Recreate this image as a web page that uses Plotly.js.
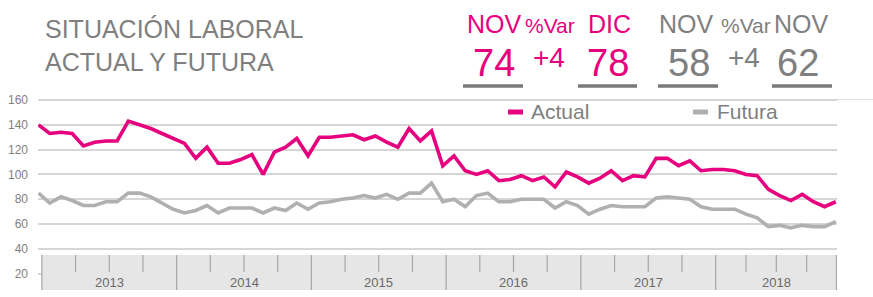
<!DOCTYPE html>
<html>
<head>
<meta charset="utf-8">
<script src="https://cdn.plot.ly/plotly-3.0.1.min.js"></script>
<style>
  html, body { margin: 0; padding: 0; background: #ffffff; }
  #chart { width: 873px; height: 297px; }
</style>
</head>
<body>
<div id="chart"></div>
<script>
// ---------------- DATA ----------------
const years = ['2013', '2014', '2015', '2016', '2017', '2018'];
const months = ['ene', 'feb', 'mar', 'abr', 'may', 'jun', 'jul', 'ago', 'sep', 'oct', 'nov', 'dic'];

const actual = [
  140, 133, 134, 133, 123, 126, 127, 127, 143, 140, 137, 133,
  129, 125, 113, 122, 109, 109, 112, 116, 100, 118, 122, 129,
  115, 130, 130, 131, 132, 128, 131, 126, 122, 137, 127, 135,
  107, 115, 103, 100, 103, 95, 96, 99, 95, 98, 90, 102,
  98, 93, 97, 103, 95, 99, 98, 113, 113, 107, 111, 103,
  104, 104, 103, 100, 99, 88, 83, 79, 84, 78, 74, 78
];
const futura = [
  85, 77, 82, 79, 75, 75, 78, 78, 85, 85, 82, 77,
  72, 69, 71, 75, 69, 73, 73, 73, 69, 73, 71, 77,
  72, 77, 78, 80, 81, 83, 81, 84, 80, 85, 85, 93,
  78, 80, 74, 83, 85, 78, 78, 80, 80, 80, 73, 78,
  75, 68, 72, 75, 74, 74, 74, 81, 82, 81, 80, 74,
  72, 72, 72, 68, 65, 58, 59, 57, 59, 58, 58, 62
];
const yTicks = [20, 40, 60, 80, 100, 120, 140, 160];
const seriesNames = ['Actual', 'Futura'];

const titleLines = ['SITUACIÓN LABORAL', 'ACTUAL Y FUTURA'];
const actualHeadLabels = ['NOV', '%Var', 'DIC'];
const actualHeadValues = ['74', '+4', '78'];
const futuraHeadLabels = ['NOV', '%Var', 'NOV'];
const futuraHeadValues = ['58', '+4', '62'];

// ---------------- STYLE / GEOMETRY ----------------
const PINK = '#e6007e';
const GREY_LINE = '#b0b0b0';
const GREY_TEXT = '#7f7f7f';
const FONT = 'Liberation Sans, Arial, sans-serif';

const FW = 873, FH = 297;
const ML = 38, MR = 36, MT = 98, MB = 21;
const PW = FW - ML - MR, PH = FH - MT - MB, PB = FH - MB;
const px = v => (v - ML) / PW;   // pixel x -> paper x
const py = v => (PB - v) / PH;   // pixel y -> paper y

const categories = [];
years.forEach(y => months.forEach(m => categories.push(m + ' ' + y)));
const xIdx = categories.map((_, i) => i);
const xMin = -0.045, xMax = 71.107;

// ---------------- TRACES ----------------
const traces = [
  { x: xIdx, y: actual, text: categories, name: seriesNames[0], type: 'scatter', mode: 'lines',
    line: { color: PINK, width: 3.6 }, hoverinfo: 'text+y' },
  { x: xIdx, y: futura, text: categories, name: seriesNames[1], type: 'scatter', mode: 'lines',
    line: { color: GREY_LINE, width: 3.6 }, hoverinfo: 'text+y' }
];

// ---------------- SHAPES & ANNOTATIONS ----------------
const shapes = [];
const annotations = [];

// category band (multi-level axis look)
const bandTop = py(255), bandBot = py(290), tickBot = py(272);
shapes.push({ type: 'rect', xref: 'x', yref: 'paper', x0: 0.3, x1: xMax, y0: bandBot, y1: bandTop,
  fillcolor: '#e6e6e6', line: { width: 0 } });
years.forEach((yr, k) => {
  const s = 12 * k + 0.3;
  const e = k < years.length - 1 ? 12 * (k + 1) + 0.3 : xMax;
  shapes.push({ type: 'line', xref: 'x', yref: 'paper', x0: s, x1: s, y0: bandBot, y1: bandTop,
    line: { color: '#a6a6a6', width: 1.2 } });
  for (let q = 1; q <= 3; q++) {
    const t = s + (e - s) * q / 4;
    shapes.push({ type: 'line', xref: 'x', yref: 'paper', x0: t, x1: t, y0: tickBot, y1: bandTop,
      line: { color: '#a6a6a6', width: 1.2 } });
  }
  if (k === years.length - 1) {
    shapes.push({ type: 'line', xref: 'x', yref: 'paper', x0: e - 0.05, x1: e - 0.05, y0: bandBot, y1: bandTop,
      line: { color: '#a6a6a6', width: 1.2 } });
  }
  annotations.push({ xref: 'x', yref: 'paper', x: (s + e) / 2, y: py(282), text: yr, showarrow: false,
    xanchor: 'center', yanchor: 'middle', font: { family: FONT, size: 13, color: '#6a6a6a' } });
});

// top divider continuing to the right edge
shapes.push({ type: 'line', xref: 'paper', yref: 'paper', x0: 1, x1: px(873), y0: py(99.5), y1: py(99.5),
  line: { color: '#dedede', width: 1.2 } });

// title (two lines in one text block)
annotations.push({ xref: 'paper', yref: 'paper', x: px(43), y: py(45), text: titleLines.join('<br>'),
  showarrow: false, align: 'left', xanchor: 'left', yanchor: 'middle',
  font: { family: FONT, size: 25, color: GREY_TEXT } });

// header figures
function header(labels, values, color, cx, bars) {
  const labelSizes = [25, 21, 25];
  const labelY = [24, 25.5, 24];
  const valueSizes = [38, 28, 38];
  const valueY = [62.5, 57.5, 62.5];
  labels.forEach((t, i) => annotations.push({ xref: 'paper', yref: 'paper', x: px(cx.lab[i]), y: py(labelY[i]),
    text: t, showarrow: false, xanchor: 'center', yanchor: 'middle',
    font: { family: FONT, size: labelSizes[i], color: color } }));
  values.forEach((t, i) => annotations.push({ xref: 'paper', yref: 'paper', x: px(cx.val[i]), y: py(valueY[i]),
    text: t, showarrow: false, xanchor: 'center', yanchor: 'middle',
    font: { family: FONT, size: valueSizes[i], color: color } }));
  bars.forEach(b => shapes.push({ type: 'line', xref: 'paper', yref: 'paper', x0: px(b[0]), x1: px(b[1]),
    y0: py(86), y1: py(86), line: { color: '#7a7a7a', width: 3.5 } }));
}
header(actualHeadLabels, actualHeadValues, PINK,
  { lab: [495, 550, 609], val: [494, 549, 608] }, [[463, 523], [578, 637]]);
header(futuraHeadLabels, futuraHeadValues, GREY_TEXT,
  { lab: [686, 745.5, 801.5], val: [689, 744, 797.5] }, [[658, 718], [772, 832]]);

// custom legend
const legendItems = [
  { name: seriesNames[0], color: PINK, sym: [508, 523], tx: 529 },
  { name: seriesNames[1], color: GREY_LINE, sym: [693, 708], tx: 715 }
];
legendItems.forEach(it => {
  shapes.push({ type: 'line', xref: 'paper', yref: 'paper', x0: px(it.sym[0]), x1: px(it.sym[1]),
    y0: py(112), y1: py(112), line: { color: it.color, width: 5 } });
  annotations.push({ xref: 'paper', yref: 'paper', x: px(it.tx), y: py(111), text: it.name, showarrow: false,
    xanchor: 'left', yanchor: 'middle', font: { family: FONT, size: 21, color: GREY_TEXT } });
});

// ---------------- LAYOUT ----------------
const layout = {
  width: FW, height: FH,
  margin: { l: ML, r: MR, t: MT, b: MB, pad: 0 },
  paper_bgcolor: '#ffffff', plot_bgcolor: '#ffffff',
  showlegend: false,
  font: { family: FONT, color: GREY_TEXT },
  xaxis: { range: [xMin, xMax], showgrid: false, zeroline: false, showline: false,
    showticklabels: false, ticks: '', fixedrange: true },
  yaxis: { range: [18.2, 161.6], tickvals: yTicks, ticktext: yTicks.map(String),
    showgrid: true, gridcolor: '#d6d6d6', gridwidth: 1.5, zeroline: false, showline: false,
    ticks: '', ticklabelstandoff: 9, tickfont: { family: FONT, size: 12, color: GREY_TEXT }, fixedrange: true },
  shapes: shapes,
  annotations: annotations
};

Plotly.newPlot('chart', traces, layout, { displayModeBar: false, responsive: false });
</script>
</body>
</html>
